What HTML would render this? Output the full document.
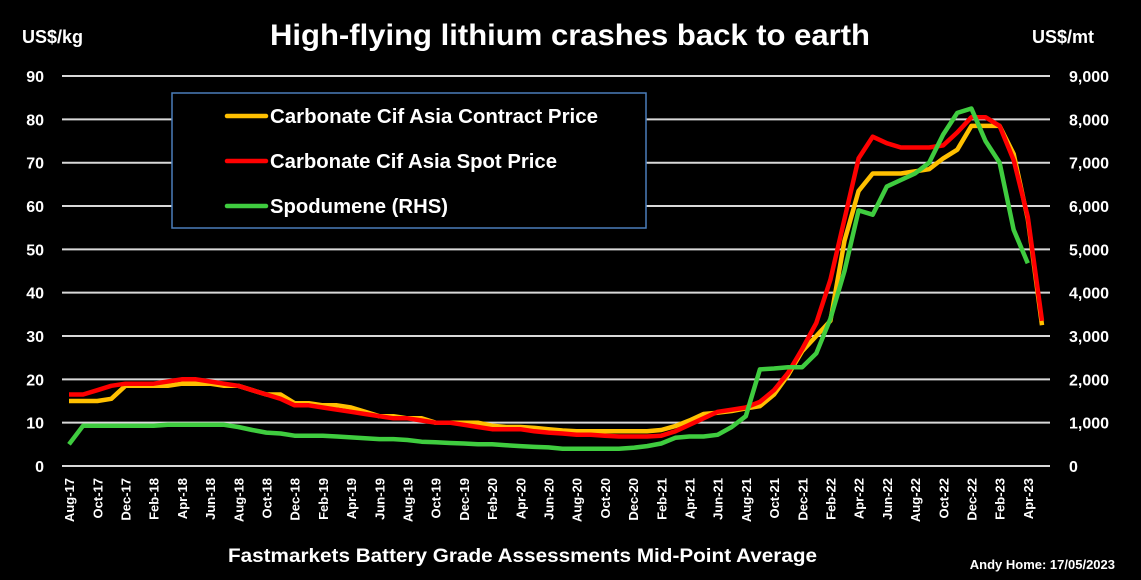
<!DOCTYPE html>
<html><head><meta charset="utf-8"><style>
html,body{margin:0;padding:0;background:#000;}
svg text{font-family:"Liberation Sans",sans-serif;font-weight:bold;fill:#fff;}
</style></head><body>
<svg id="c" width="1141" height="575" xmlns="http://www.w3.org/2000/svg">
<rect width="1141" height="575" fill="#000"/>
<text x="270" y="45" font-size="30" textLength="600" lengthAdjust="spacingAndGlyphs">High-flying lithium crashes back to earth</text>
<text x="22" y="43" font-size="18">US$/kg</text>
<text x="1032" y="43" font-size="18">US$/mt</text>
<g id="grid"></g>
<g id="series" fill="none" stroke-width="4.5" stroke-linejoin="round"></g>
<rect x="172" y="93" width="474" height="135" fill="#000" stroke="#4a7ebb" stroke-width="1.5"/>
<line x1="227" y1="116" x2="266" y2="116" stroke="#ffc000" stroke-width="4.5" stroke-linecap="round"/>
<line x1="227" y1="161" x2="266" y2="161" stroke="#ff0000" stroke-width="4.5" stroke-linecap="round"/>
<line x1="227" y1="206" x2="266" y2="206" stroke="#3fcc3f" stroke-width="4.5" stroke-linecap="round"/>
<text x="270" y="123" font-size="20" textLength="328" lengthAdjust="spacingAndGlyphs">Carbonate Cif Asia Contract Price</text>
<text x="270" y="168" font-size="20" textLength="287" lengthAdjust="spacingAndGlyphs">Carbonate Cif Asia Spot Price</text>
<text x="270" y="213" font-size="20" textLength="178" lengthAdjust="spacingAndGlyphs">Spodumene (RHS)</text>
<text x="228" y="562" font-size="19" textLength="589" lengthAdjust="spacingAndGlyphs">Fastmarkets Battery Grade Assessments Mid-Point Average</text>
<text x="1115" y="569" text-anchor="end" font-size="13">Andy Home: 17/05/2023</text>
</svg>
<script>
var ns="http://www.w3.org/2000/svg";
function el(t,a,p,txt){var e=document.createElementNS(ns,t);for(var k in a)e.setAttribute(k,a[k]);if(txt!==undefined)e.textContent=txt;p.appendChild(e);return e;}
var g=document.getElementById("grid"),s=document.getElementById("series");
function Y(v){return 466-4.333*v;}
function X(i){return 69.05+14.1*i;}
var rl=["0","1,000","2,000","3,000","4,000","5,000","6,000","7,000","8,000","9,000"];
for(var k=0;k<=9;k++){var y=Y(k*10);
el("line",{x1:62,x2:1050,y1:y,y2:y,stroke:"#d9d9d9","stroke-width":2},g);
el("text",{x:44,y:y+6,"text-anchor":"end","font-size":16},g,String(k*10));
el("text",{x:1069,y:y+6,"font-size":16},g,rl[k]);}
var mn=["Jan","Feb","Mar","Apr","May","Jun","Jul","Aug","Sep","Oct","Nov","Dec"];
for(var i=0;i<70;i+=2){var m=(7+i)%12,yr=17+Math.floor((7+i)/12);
var x=X(i)+5;
el("text",{x:0,y:0,"text-anchor":"end","font-size":13,transform:"translate("+x+",478) rotate(-90)"},g,mn[m]+"-"+yr);}
var orange=[15,15,15,15.5,18.5, 18.5,18.5,18.5,19,19,19,18.5,18.5,17.5,16.5,16.5,14.5, 14.5,14,14,13.5,12.5,11.5,11.5,11,11,10,10,10, 10,9.3,9,9,8.8,8.5,8.2,8,8,8,8,8, 8,8.3,9.2,10.5,12,12.3,12.7,13.3,13.8,16.5,21,26.5, 30,33.5,52,63.5,67.5,67.5,67.5,68,68.5,71,73,78.5, 78.5,78.5,72,57,32.5];
var red=[16.5,16.5,17.5,18.5,19, 19,19,19.5,20,20,19.5,19,18.5,17.5,16.5,15.5,14, 14,13.5,13,12.5,12,11.5,11,11,10.5,10,10,9.5, 9,8.5,8.5,8.5,8,7.7,7.5,7.2,7.2,7,6.8,6.8, 6.8,7,8,9.5,11,12.5,13,13.5,14.8,17.5,21.5,27, 33,43,57,71,76,74.5,73.5,73.5,73.5,74,77,80.5, 80.5,78.5,70.6,57.5,33.5];
var green=[5,9.3,9.3,9.3,9.3, 9.3,9.3,9.5,9.5,9.5,9.5,9.5,9,8.3,7.7,7.5,7, 7,7,6.8,6.6,6.4,6.2,6.2,6,5.6,5.5,5.3,5.2, 5,5,4.8,4.6,4.4,4.3,4,4,4,4,4,4.2, 4.6,5.2,6.5,6.8,6.8,7.2,9,11.5,22.3,22.5,22.8,22.8, 26,34,45,59,58,64.5,66,67.5,70,76.5,81.5,82.5, 75,70,54.5,46.8];
function pl(d,c){var p=d.map(function(v,i){return X(i).toFixed(1)+","+Y(v).toFixed(1);}).join(" ");el("polyline",{points:p,stroke:c},s);}
pl(orange,"#ffc000");pl(red,"#ff0000");pl(green,"#3fcc3f");
</script>
</body></html>
